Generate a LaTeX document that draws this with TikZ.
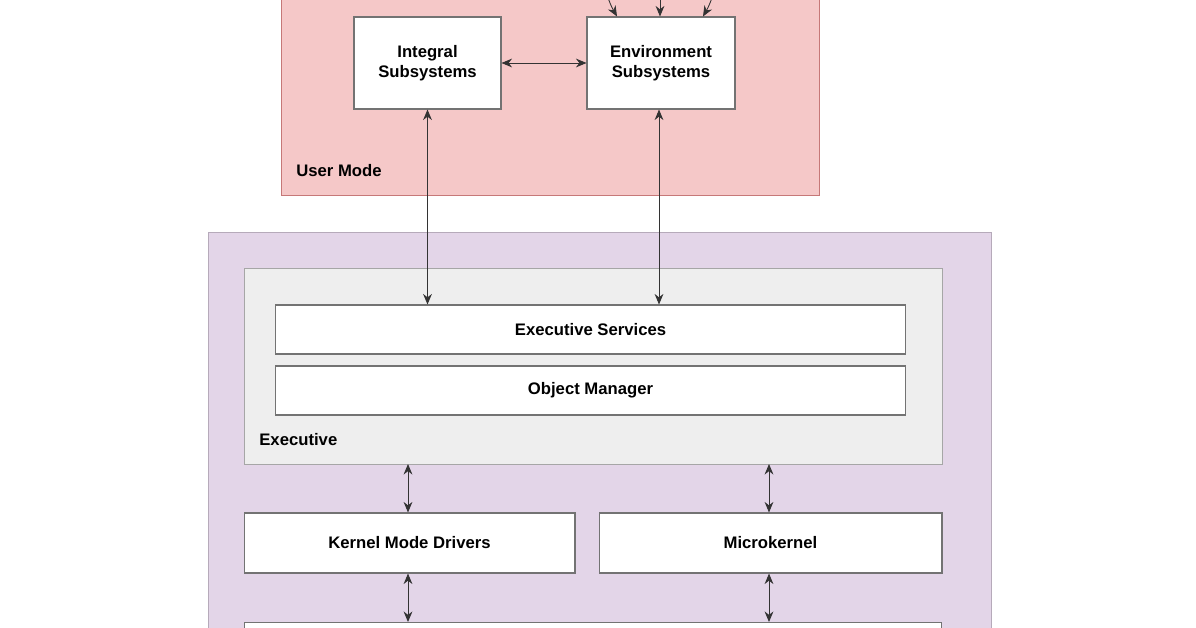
\documentclass[tikz,border=0pt]{standalone}
\usepackage{fontspec}
\setmainfont{Liberation Sans}
\usetikzlibrary{arrows.meta}
\definecolor{usercol}{HTML}{F5C8C8}
\definecolor{kernelcol}{HTML}{E3D5E8}
\definecolor{execcol}{HTML}{EEEEEE}
\begin{document}
\begin{tikzpicture}[x=0.02cm, y=-0.02cm,
    lbl/.style = {font=\bfseries\fontsize{9.5}{11.5}\selectfont},
    box/.style = {lbl, draw=black!55, fill=white, line width=0.6pt, align=center, inner sep=0pt},
    tip/.style = {-{Stealth[length=6pt,width=5pt]}, black!80, line width=0.5pt},
    link/.style = {{Stealth[length=6pt,width=5pt]}-{Stealth[length=6pt,width=5pt]}, black!80, line width=0.5pt}]
    \useasboundingbox (0,0) rectangle (1196,628);
    \clip (0,0) rectangle (1196,628);
    \fill[white] (0,0) rectangle (1196,628);
    % user mode
    \filldraw[fill=usercol, draw=red!25!usercol!80!black] (281,-20) rectangle (819,195);
    \node[lbl, anchor=west, inner sep=0pt] (um) at (296,171) {User Mode};
    \node[box, minimum width=2.94cm, minimum height=1.84cm] (integral) at (427.5,63) {Integral\\Subsystems};
    \node[box, minimum width=2.96cm, minimum height=1.84cm] (env) at (661,63) {Environment\\Subsystems};
    \coordinate (t1) at (580,-40);
    \coordinate (t2) at (660,-40);
    \coordinate (t3) at (740,-40);
    \draw[tip] (t1) to[out=-20,in=120] ([xshift=-0.88cm]env.north);
    \draw[tip] (t2) -- ([xshift=-0.02cm]env.north);
    \draw[tip] (t3) to[out=-160,in=60] ([xshift=0.84cm]env.north);
    \draw[link] (integral) -- (env);
    % kernel mode
    \filldraw[fill=kernelcol, draw=kernelcol!80!black] (208,232) rectangle (991,660);
    \filldraw[fill=execcol, draw=black!35] (244,268) rectangle (942,464);
    \node[lbl, anchor=west, inner sep=0pt] (exec) at (259,440) {Executive};
    \node[box, minimum width=12.62cm, minimum height=0.98cm] (services) at (590.5,329.5) {Executive Services};
    \node[box, minimum width=12.62cm, minimum height=0.98cm] (objman) at (590.5,390.5) {Object Manager};
    \node[box, minimum width=6.62cm, minimum height=1.2cm] (drivers) at (409.5,543) {Kernel Mode Drivers};
    \node[box, minimum width=6.86cm, minimum height=1.2cm] (micro) at (770.5,543) {Microkernel};
    \node[box, minimum width=13.96cm, minimum height=1.2cm, anchor=north] (hal) at (593,622) {};
    \coordinate (e1) at (408,464);
    \coordinate (e2) at (769,464);
    \draw[link] (integral.south) -- (integral.south |- services.north);
    \draw[link] ([xshift=-0.04cm]env.south) -- ([xshift=-0.04cm]env.south |- services.north);
    \draw[link] (e1) -- (e1 |- drivers.north);
    \draw[link] (e2) -- (e2 |- micro.north);
    \draw[link] (e1 |- drivers.south) -- (e1 |- hal.north);
    \draw[link] (e2 |- micro.south) -- (e2 |- hal.north);
\end{tikzpicture}
\end{document}
